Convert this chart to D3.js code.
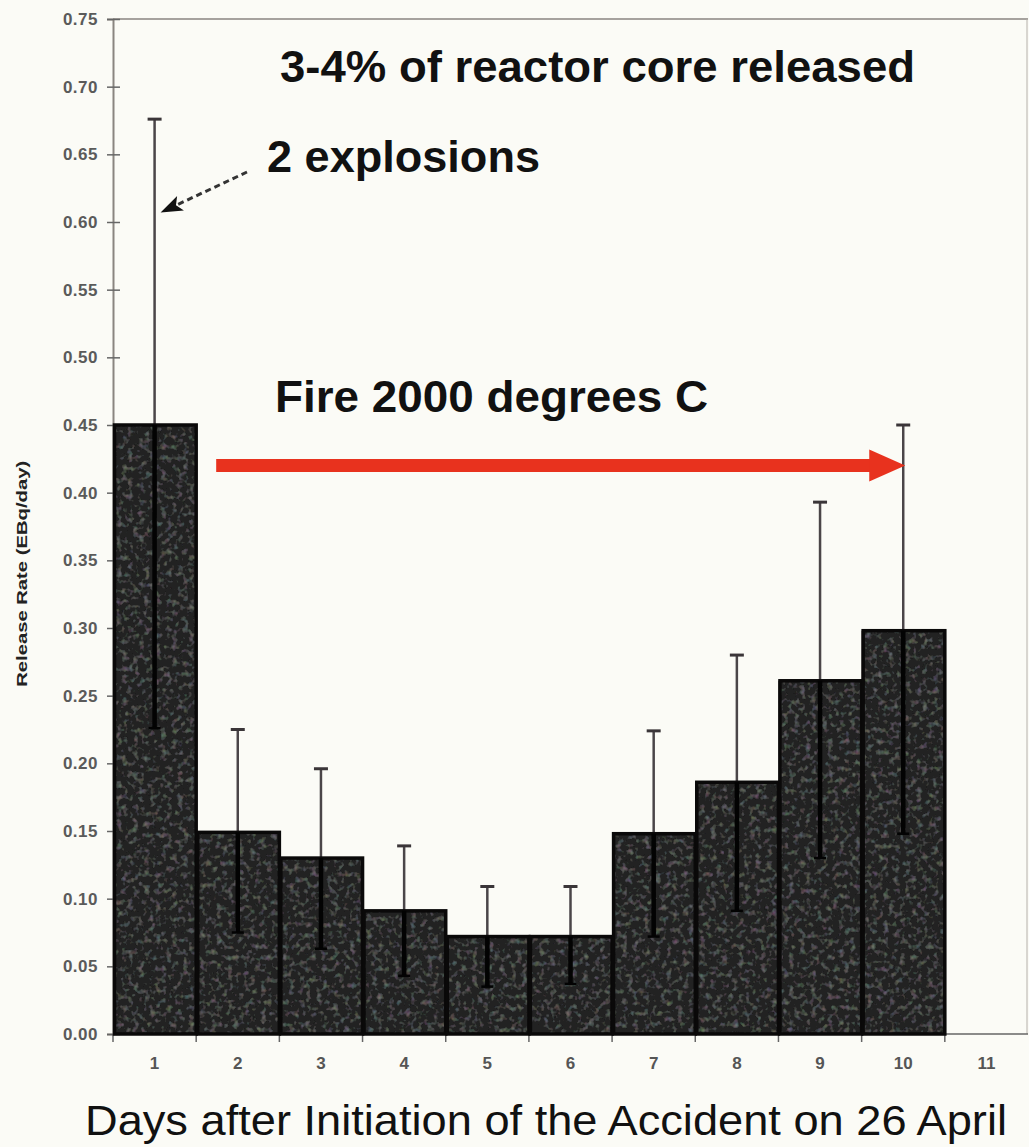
<html>
<head>
<script src="https://cdnjs.cloudflare.com/ajax/libs/d3/7.8.5/d3.min.js"></script>
</head>
<body style="margin: 0; background: #fbfbf6;">
</body>
<script>

// days after the accident (11 is only an empty slot on the axis)
var days = ["1", "2", "3", "4", "5", "6", "7", "8", "9", "10", "11"];
// release rate per day, EBq/day
var release = [0.45, 0.149, 0.130, 0.091, 0.072, 0.072, 0.148, 0.186, 0.261, 0.298];
var errHigh = [0.676, 0.225, 0.196, 0.139, 0.109, 0.109, 0.224, 0.280, 0.393, 0.450];
var errLow = [0.226, 0.075, 0.063, 0.043, 0.035, 0.037, 0.072, 0.091, 0.130, 0.148];
var yTickValues = [0, 0.05, 0.10, 0.15, 0.20, 0.25, 0.30, 0.35, 0.40, 0.45, 0.50, 0.55, 0.60, 0.65, 0.70, 0.75];

var yTitle = "Release Rate (EBq/day)";
var xTitle = "Days after Initiation of the Accident on 26 April";
var noteCore = "3-4% of reactor core released";
var noteExplosions = "2 explosions";
var noteFire = "Fire 2000 degrees C";

var width = 1029, height = 1147;
var margin = {top: 19, right: 1, bottom: 113, left: 113};

function drawGraph() {
  var data = release.map((v, i) => ({day: days[i], value: v, hi: errHigh[i], lo: errLow[i]}));

  var x = d3.scaleBand()
      .domain(days)
      .range([margin.left, width - margin.right])
      .padding(0);

  var y = d3.scaleLinear()
      .domain([0, 0.75])
      .range([height - margin.bottom, margin.top]);

  var svg = d3.select("body").append("svg")
      .attr("width", width)
      .attr("height", height)
      .style("background", "#fbfbf6")
      .style("font-family", "'Liberation Sans', Arial, sans-serif");

  // grainy print texture for the bars
  var defs = svg.append("defs");
  var f = defs.append("filter").attr("id", "grain").attr("x", 0).attr("y", 0).attr("width", 1).attr("height", 1);
  f.append("feTurbulence").attr("type", "fractalNoise").attr("baseFrequency", 0.18).attr("numOctaves", 2).attr("seed", 7).attr("result", "noise");
  f.append("feColorMatrix").attr("in", "noise").attr("type", "matrix")
    .attr("values", "0.25 0 0 0 0.08  0 0.28 0 0 0.08  0 0 0.25 0 0.09  0 0 0 1.5 -0.75")
    .attr("result", "tint");
  f.append("feComposite").attr("in", "tint").attr("in2", "SourceGraphic").attr("operator", "in").attr("result", "spots");
  var m = f.append("feMerge");
  m.append("feMergeNode").attr("in", "SourceGraphic");
  m.append("feMergeNode").attr("in", "spots");

  // frame: top and right
  svg.append("line")
      .attr("x1", margin.left).attr("x2", width - margin.right)
      .attr("y1", y(0.75)).attr("y2", y(0.75))
      .attr("stroke", "#8a8580").attr("stroke-width", 1.5);
  svg.append("line")
      .attr("x1", width - margin.right - 1).attr("x2", width - margin.right - 1)
      .attr("y1", y(0.75)).attr("y2", y(0))
      .attr("stroke", "#b5b0aa").attr("stroke-width", 1);
  // baseline
  svg.append("line")
      .attr("x1", margin.left).attr("x2", width - margin.right)
      .attr("y1", y(0)).attr("y2", y(0))
      .attr("stroke", "#666").attr("stroke-width", 1.5);

  // y axis
  var yAxis = svg.append("g")
      .attr("transform", `translate(${margin.left},0)`)
      .call(d3.axisLeft(y).tickValues(yTickValues).tickFormat(d3.format(".2f")).tickSize(6).tickPadding(9));
  yAxis.select(".domain").attr("stroke", "#8a8580").attr("stroke-width", 2);
  yAxis.selectAll(".tick line").attr("x1", 7).attr("x2", -6).attr("stroke", "#666").attr("stroke-width", 1.5);
  yAxis.selectAll(".tick text")
      .attr("fill", "#5a5a5a")
      .attr("font-size", 17)
      .attr("font-weight", "bold")
      .attr("letter-spacing", "0.5");

  // x axis: labels centred on days, ticks at day boundaries
  var xAxis = svg.append("g")
      .attr("transform", `translate(0,${y(0)})`)
      .call(d3.axisBottom(x).tickSize(0).tickPadding(23));
  xAxis.select(".domain").remove();
  xAxis.selectAll(".tick text")
      .attr("fill", "#555")
      .attr("font-size", 17)
      .attr("font-weight", "bold");

  svg.append("g").selectAll("line")
    .data(days)
    .join("line")
      .attr("x1", d => x(d)).attr("x2", d => x(d))
      .attr("y1", y(0)).attr("y2", y(0) + 8)
      .attr("stroke", "#666").attr("stroke-width", 1.5);

  // error bars above the bars
  var err = svg.append("g");
  err.selectAll("line.stem")
    .data(data)
    .join("line")
      .attr("class", "stem")
      .attr("x1", d => x(d.day) + x.bandwidth() / 2)
      .attr("x2", d => x(d.day) + x.bandwidth() / 2)
      .attr("y1", d => y(d.hi))
      .attr("y2", d => y(d.value))
      .attr("stroke", "#4a4548").attr("stroke-width", 2.5);
  err.selectAll("line.cap")
    .data(data)
    .join("line")
      .attr("class", "cap")
      .attr("x1", d => x(d.day) + x.bandwidth() / 2 - 7)
      .attr("x2", d => x(d.day) + x.bandwidth() / 2 + 7)
      .attr("y1", d => y(d.hi))
      .attr("y2", d => y(d.hi))
      .attr("stroke", "#3a3538").attr("stroke-width", 3);

  // bars
  svg.append("g")
      .attr("filter", "url(#grain)")
    .selectAll("rect")
    .data(data)
    .join("rect")
      .attr("x", d => x(d.day))
      .attr("y", d => y(d.value))
      .attr("width", x.bandwidth())
      .attr("height", d => y(0) - y(d.value))
      .attr("fill", "#242023");

  svg.append("g")
    .selectAll("rect")
    .data(data)
    .join("rect")
      .attr("x", d => x(d.day) + 1.5)
      .attr("y", d => y(d.value))
      .attr("width", x.bandwidth() - 1.5)
      .attr("height", d => y(0) - y(d.value))
      .attr("fill", "none")
      .attr("stroke", "#0a0909").attr("stroke-width", 3.5);

  // error bars inside the bars
  err = svg.append("g");
  err.selectAll("line")
    .data(data)
    .join("line")
      .attr("x1", d => x(d.day) + x.bandwidth() / 2)
      .attr("x2", d => x(d.day) + x.bandwidth() / 2)
      .attr("y1", d => y(d.value))
      .attr("y2", d => y(d.lo))
      .attr("stroke", "#030303").attr("stroke-width", 4.5);
  err.selectAll("path")
    .data(data)
    .join("path")
      .attr("d", d => `M${x(d.day) + x.bandwidth() / 2 - 6},${y(d.lo)}h12`)
      .attr("stroke", "#030303").attr("stroke-width", 2.5);

  // axis titles
  svg.append("text")
      .attr("transform", `translate(27,${(y(0.48) + y(0.2)) / 2}) rotate(-90)`)
      .attr("text-anchor", "middle")
      .attr("font-size", 14)
      .attr("font-weight", "bold")
      .attr("fill", "#222")
      .attr("textLength", 226)
      .attr("lengthAdjust", "spacingAndGlyphs")
      .text(yTitle);

  svg.append("text")
      .attr("x", 85)
      .attr("y", 1135)
      .attr("font-size", 43)
      .attr("fill", "#111")
      .attr("textLength", 922)
      .attr("lengthAdjust", "spacingAndGlyphs")
      .text(xTitle);

  // annotations
  svg.append("text")
      .attr("x", 280).attr("y", 82)
      .attr("font-size", 44).attr("font-weight", "bold").attr("fill", "#111")
      .attr("textLength", 635).attr("lengthAdjust", "spacingAndGlyphs")
      .text(noteCore);

  svg.append("text")
      .attr("x", 267).attr("y", 172)
      .attr("font-size", 44).attr("font-weight", "bold").attr("fill", "#111")
      .attr("textLength", 273).attr("lengthAdjust", "spacingAndGlyphs")
      .text(noteExplosions);

  svg.append("text")
      .attr("x", 275).attr("y", 412)
      .attr("font-size", 44).attr("font-weight", "bold").attr("fill", "#111")
      .attr("textLength", 433).attr("lengthAdjust", "spacingAndGlyphs")
      .text(noteFire);

  // dashed arrow to the day 1 error bar
  var tipX = x("1") + x.bandwidth() / 2 + 6, tipY = y(0.607);
  var ang = Math.atan2(tipY - 172, tipX - 247);
  svg.append("line")
      .attr("x1", 247).attr("y1", 172)
      .attr("x2", tipX - 18 * Math.cos(ang)).attr("y2", tipY - 18 * Math.sin(ang))
      .attr("stroke", "#333").attr("stroke-width", 3)
      .attr("stroke-dasharray", "6,4");
  svg.append("path")
      .attr("transform", `translate(${tipX},${tipY}) rotate(${ang * 180 / Math.PI})`)
      .attr("d", "M0,0L-22,-8L-17,0L-22,8Z")
      .attr("fill", "#111");

  // red arrow: fire lasting to day 10
  var ay = y(0.42);
  var ax0 = x("1") + x.bandwidth() + 20;
  var ax1 = x("10") + x.bandwidth() / 2 + 2;
  svg.append("line")
      .attr("x1", ax0).attr("x2", ax1 - 32)
      .attr("y1", ay).attr("y2", ay)
      .attr("stroke", "#e8321e").attr("stroke-width", 13);
  svg.append("path")
      .attr("d", `M${ax1},${ay}L${ax1 - 36},${ay - 16}L${ax1 - 36},${ay + 16}Z`)
      .attr("fill", "#e8321e");
}

drawGraph();
</script>
</html>
